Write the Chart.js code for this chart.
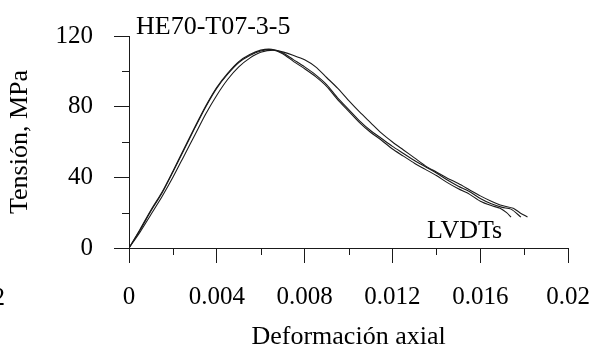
<!DOCTYPE html>
<html><head><meta charset="utf-8">
<script src="https://cdn.jsdelivr.net/npm/chart.js@4.4.1/dist/chart.umd.min.js"></script>
<style>html,body{margin:0;padding:0;background:#fff;overflow:hidden}</style>
</head><body>
<canvas id="c" width="609" height="350"></canvas>
<script>
// ---- data ----
const strainA = [0,0.0005,0.001,0.0015,0.002,0.0025,0.003,0.0035,0.004,0.0045,0.005,0.0055,0.006,0.0065,0.007,0.0075,0.008,0.0085,0.009,0.0095,0.01,0.0105,0.011,0.0115,0.012,0.0125,0.013,0.0135,0.014,0.0145,0.015,0.0155,0.016,0.0165,0.0169,0.0172,0.0174];
const stressA = [0,10,21,31,43,55.5,68,80,90.5,98.5,105,109,111.5,112.2,110,105.5,101.5,97,91.5,84,77.5,71,65.5,61,56,52,48,44.5,41,37,33.5,30.5,26.5,24,22.5,20,17.5];

const strainB = [0,0.0005,0.001,0.0015,0.002,0.0025,0.003,0.0035,0.004,0.0045,0.005,0.0055,0.006,0.0065,0.007,0.0075,0.008,0.0085,0.009,0.0095,0.01,0.0105,0.011,0.0115,0.012,0.0125,0.013,0.0135,0.014,0.0145,0.015,0.0155,0.016,0.0165,0.017,0.0174,0.01785];
const stressB = [0,10.5,21.5,31.5,43.5,56,68.5,80.5,91,99,105.5,109.5,112,112.5,110.5,106.5,102.5,98,92.5,85,78.5,72,66.5,62,57.5,53.5,49.5,46,42.5,38.5,35,32,28,25,23,22,17.5];

const strainC = [0,0.0005,0.001,0.0015,0.002,0.0025,0.003,0.0035,0.004,0.0045,0.005,0.0055,0.006,0.0066,0.007,0.0075,0.008,0.0085,0.009,0.0095,0.01,0.0105,0.011,0.0115,0.012,0.0125,0.013,0.0135,0.014,0.0145,0.015,0.0155,0.016,0.0165,0.017,0.0175,0.0178,0.01815];
const stressC = [0,9,19,29,40,52,64,76,86.5,95.5,102.5,107.5,110.8,112,111,109,106.5,102.5,96.5,90.5,83.5,77,71,65,60,55.5,51,46.5,43,39.5,36.5,33,29.5,26.5,24,22.5,20,17.5];

const seriesNames = ['LVDT 1','LVDT 2','LVDT 3'];
const xTicks = [0,0.004,0.008,0.012,0.016,0.02];
const xMinorTicks = [0.002,0.006,0.01,0.014,0.018];
const yTicks = [0,40,80,120];
const yMinorTicks = [20,60,100];
const xTitle = 'Deformación axial';
const yTitle = 'Tensión, MPa';
const specimenLabel = 'HE70-T07-3-5';
const sensorLabel = 'LVDTs';

// ---- chart ----
const FONT = "'Liberation Serif', 'Times New Roman', serif";
const INK = '#1a1a1a';
const pairs = (xs, ys) => xs.map((x, i) => ({x: x, y: ys[i]}));
const mkSet = (name, xs, ys) => ({
  label: name, data: pairs(xs, ys), borderColor: INK, borderWidth: 1.1,
  pointRadius: 0, fill: false, tension: 0.25, parsing: false
});

const extras = {
  id: 'extras',
  afterDraw(chart) {
    const ctx = chart.ctx, xs = chart.scales.x, ys = chart.scales.y;
    const bottom = chart.chartArea.bottom, left = chart.chartArea.left;
    ctx.save();
    ctx.strokeStyle = INK; ctx.lineWidth = 1;
    xMinorTicks.forEach(v => {
      const px = Math.round(xs.getPixelForValue(v)) + 0.5;
      ctx.beginPath(); ctx.moveTo(px, bottom); ctx.lineTo(px, bottom + 7); ctx.stroke();
    });
    yMinorTicks.forEach(v => {
      const py = Math.round(ys.getPixelForValue(v)) + 0.5;
      ctx.beginPath(); ctx.moveTo(left, py); ctx.lineTo(left - 7, py); ctx.stroke();
    });
    ctx.fillStyle = '#000';
    ctx.textBaseline = 'alphabetic';
    ctx.font = "26px " + FONT;
    ctx.textAlign = 'left';
    ctx.fillText(specimenLabel, 136, 34);
    ctx.fillText(sensorLabel, 427, 238);
    // clipped tick label from neighbouring panel at the left edge
    ctx.font = "25px " + FONT;
    ctx.textAlign = 'right';
    ctx.fillText('0.02', 5, 305);
    ctx.restore();
  }
};

const chart = new Chart(document.getElementById('c'), {
  type: 'line',
  data: { datasets: [mkSet(seriesNames[0], strainA, stressA), mkSet(seriesNames[1], strainB, stressB), mkSet(seriesNames[2], strainC, stressC)] },
  options: {
    responsive: false, devicePixelRatio: 1, animation: false,
    layout: { padding: { top: 22, right: 27, left: 0, bottom: 0 } },
    plugins: { legend: { display: false }, tooltip: { enabled: false } },
    scales: {
      x: {
        type: 'linear', min: 0, max: 0.02,
        afterBuildTicks: s => { s.ticks = xTicks.map(v => ({value: v})); },
        afterFit: s => { s.height = 102; },
        grid: { display: true, drawOnChartArea: false, drawTicks: true, tickLength: 15, tickColor: INK, lineWidth: 1 },
        border: { display: true, color: INK, width: 1 },
        ticks: { color: '#000', padding: 19, maxRotation: 0, autoSkip: false, font: { family: FONT, size: 25 },
                 callback: v => String(Number(v.toFixed(3))) },
        title: { display: true, text: xTitle, color: '#000', padding: { top: 0, bottom: 0 }, font: { family: FONT, size: 26, lineHeight: 1 } }
      },
      y: {
        type: 'linear', min: 0, max: 120,
        afterBuildTicks: s => { s.ticks = yTicks.map(v => ({value: v})); },
        afterFit: s => { s.width = 129; },
        grid: { display: true, drawOnChartArea: false, drawTicks: true, tickLength: 15, tickColor: INK, lineWidth: 1 },
        border: { display: true, color: INK, width: 1 },
        ticks: { color: '#000', padding: 21, font: { family: FONT, size: 25 } },
        title: { display: true, text: yTitle, color: '#000', padding: { top: 7, bottom: 0 }, font: { family: FONT, size: 26, lineHeight: 1 } }
      }
    }
  },
  plugins: [extras]
});

// nudge layout padding so the plot area lands where the reference has it
const target = { top: 22, right: 582, bottom: 248 };
for (let k = 0; k < 4; k++) {
  const a = chart.chartArea, p = chart.options.layout.padding;
  const dt = target.top - a.top, dr = a.right - target.right, db = a.bottom - target.bottom;
  if (Math.abs(dt) < 0.5 && Math.abs(dr) < 0.5 && Math.abs(db) < 0.5) break;
  p.top += dt; p.right += dr; p.bottom += db;
  chart.update();
}
</script>
</body></html>
